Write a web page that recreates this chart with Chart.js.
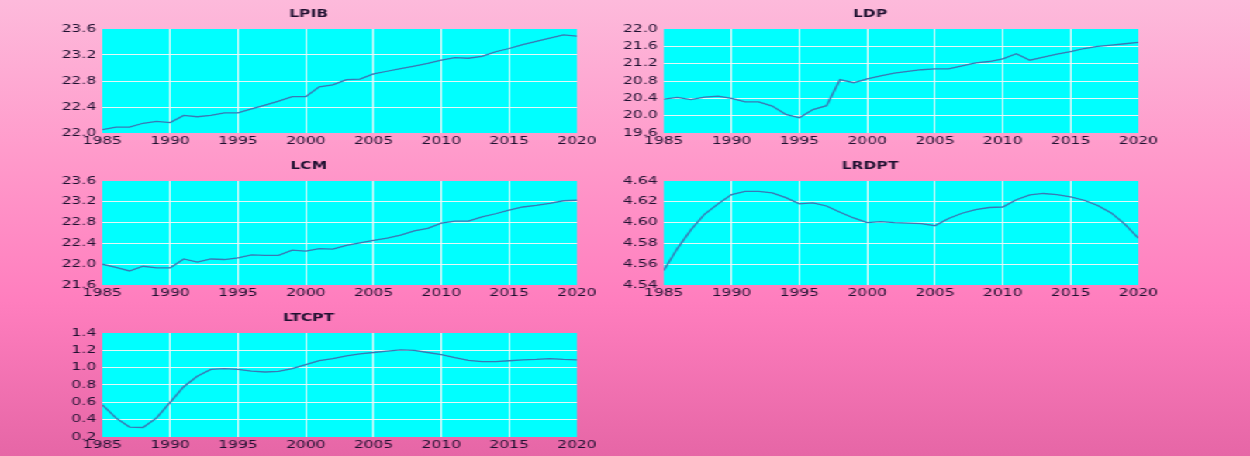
<!DOCTYPE html>
<html>
<head>
<meta charset="utf-8">
<script src="https://cdn.jsdelivr.net/npm/chart.js@4.4.0/dist/chart.umd.min.js"></script>
<style>
  html, body { margin: 0; padding: 0; width: 1250px; height: 456px; overflow: hidden; }
  body { background: linear-gradient(to bottom, #fdbadb 0%, #ff9bcb 33%, #ff7ebe 66%, #e666a6 100%); }
  /* charts are laid out narrow and widened, like the exported graph */
  #stage { position: absolute; left: 0; top: 0; width: 806px; height: 456px;
           transform: scaleX(1.5509); transform-origin: 0 0; }
  #stage canvas { position: absolute; }
</style>
</head>
<body>
<div id="stage"></div>
<script>
const years = [1985, 1986, 1987, 1988, 1989, 1990, 1991, 1992, 1993, 1994, 1995, 1996,
               1997, 1998, 1999, 2000, 2001, 2002, 2003, 2004, 2005, 2006, 2007, 2008,
               2009, 2010, 2011, 2012, 2013, 2014, 2015, 2016, 2017, 2018, 2019, 2020];

const lpib = [22.05, 22.09, 22.09, 22.15, 22.18, 22.16, 22.27, 22.25, 22.27, 22.31, 22.31, 22.37,
              22.43, 22.49, 22.56, 22.56, 22.71, 22.74, 22.82, 22.83, 22.91, 22.95, 22.99, 23.03,
              23.07, 23.12, 23.16, 23.15, 23.18, 23.25, 23.30, 23.36, 23.41, 23.46, 23.51, 23.49];

const ldp = [20.38, 20.42, 20.37, 20.43, 20.45, 20.40, 20.32, 20.32, 20.22, 20.03, 19.95, 20.14,
             20.23, 20.83, 20.76, 20.85, 20.92, 20.98, 21.02, 21.06, 21.08, 21.08, 21.15, 21.22,
             21.25, 21.31, 21.43, 21.28, 21.35, 21.42, 21.48, 21.55, 21.60, 21.63, 21.66, 21.69];

const lcm = [22.00, 21.94, 21.87, 21.96, 21.93, 21.93, 22.10, 22.04, 22.10, 22.09, 22.12, 22.18,
             22.17, 22.17, 22.27, 22.25, 22.30, 22.29, 22.36, 22.41, 22.46, 22.50, 22.56, 22.64,
             22.69, 22.79, 22.83, 22.83, 22.91, 22.97, 23.04, 23.10, 23.13, 23.17, 23.22, 23.23];

const lrdpt = [4.554, 4.575, 4.593, 4.608, 4.618, 4.627, 4.630, 4.630, 4.6285, 4.624, 4.618, 4.619,
               4.616, 4.610, 4.6045, 4.600, 4.601, 4.600, 4.5995, 4.599, 4.597, 4.604, 4.609, 4.6125,
               4.6145, 4.615, 4.622, 4.6266, 4.628, 4.627, 4.6247, 4.6215, 4.6164, 4.6093, 4.5985, 4.585];

const ltcpt = [0.57, 0.42, 0.315, 0.31, 0.42, 0.60, 0.78, 0.90, 0.98, 0.99, 0.98, 0.96,
               0.95, 0.957, 0.99, 1.035, 1.08, 1.105, 1.135, 1.16, 1.175, 1.19, 1.205, 1.20,
               1.175, 1.15, 1.115, 1.085, 1.07, 1.07, 1.08, 1.09, 1.095, 1.105, 1.095, 1.09];

// title, series, y range and tick step, decimals on the y labels
const panels = [
  { title: 'LPIB',  values: lpib,  min: 22.0, max: 23.6, step: 0.4,  dec: 1, left: 26,  top: 0 },
  { title: 'LDP',   values: ldp,   min: 19.6, max: 22.0, step: 0.4,  dec: 1, left: 388, top: 0 },
  { title: 'LCM',   values: lcm,   min: 21.6, max: 23.6, step: 0.4,  dec: 1, left: 26,  top: 152 },
  { title: 'LRDPT', values: lrdpt, min: 4.54, max: 4.64, step: 0.02, dec: 2, left: 388, top: 152 },
  { title: 'LTCPT', values: ltcpt, min: 0.2,  max: 1.4,  step: 0.2,  dec: 1, left: 26,  top: 304 }
];

const TEXT = '#1e1030';
const GRID = 'rgba(240, 248, 248, 0.95)';

Chart.defaults.font.family = "'DejaVu Sans', sans-serif";
Chart.defaults.font.size = 10;
Chart.defaults.color = TEXT;

// cyan plot background
const plotFill = {
  id: 'plotFill',
  beforeDraw(chart) {
    const a = chart.chartArea, ctx = chart.ctx;
    ctx.save();
    ctx.fillStyle = '#00ffff';
    ctx.fillRect(a.left, a.top, a.right - a.left, a.bottom - a.top);
    ctx.restore();
  }
};

// no grid line on the frame edges
function innerGrid(ctx) {
  if (!ctx.tick) return 'transparent';
  const v = ctx.tick.value;
  const s = ctx.scale;
  if (Math.abs(v - s.min) < 1e-9 || Math.abs(v - s.max) < 1e-9) return 'transparent';
  return GRID;
}

const stage = document.getElementById('stage');

panels.forEach(p => {
  const cv = document.createElement('canvas');
  cv.width = 368;
  cv.height = 149;
  cv.style.left = p.left + 'px';
  cv.style.top = p.top + 'px';
  stage.appendChild(cv);

  new Chart(cv, {
    type: 'line',
    data: {
      datasets: [{
        data: years.map((y, i) => ({ x: y, y: p.values[i] })),
        borderColor: '#3a78b4',
        borderWidth: 1.3,
        pointRadius: 0,
        fill: false,
        tension: 0
      }]
    },
    options: {
      responsive: false,
      animation: false,
      devicePixelRatio: 1,
      layout: { padding: { top: 0, left: 0, right: 22, bottom: 0 } },
      plugins: {
        legend: { display: false },
        tooltip: { enabled: false },
        title: {
          display: true,
          text: p.title,
          color: TEXT,
          font: { size: 10, weight: 'bold', lineHeight: 1.2 },
          padding: { top: 8, bottom: 9 }
        }
      },
      scales: {
        x: {
          type: 'linear',
          min: 1985,
          max: 2020,
          border: { display: false },
          grid: { color: innerGrid, lineWidth: 1, drawTicks: false },
          ticks: { stepSize: 5, padding: 2, color: TEXT, maxRotation: 0,
                   callback: v => String(v) },
          afterFit: s => { s.height = 16; }
        },
        y: {
          min: p.min,
          max: p.max,
          border: { display: false },
          grid: { color: innerGrid, lineWidth: 1, drawTicks: false },
          ticks: { stepSize: p.step, padding: 4, color: TEXT,
                   callback: v => Number(v).toFixed(p.dec) },
          afterFit: s => { s.width = 40; }
        }
      }
    },
    plugins: [plotFill]
  });
});
</script>
</body>
</html>
